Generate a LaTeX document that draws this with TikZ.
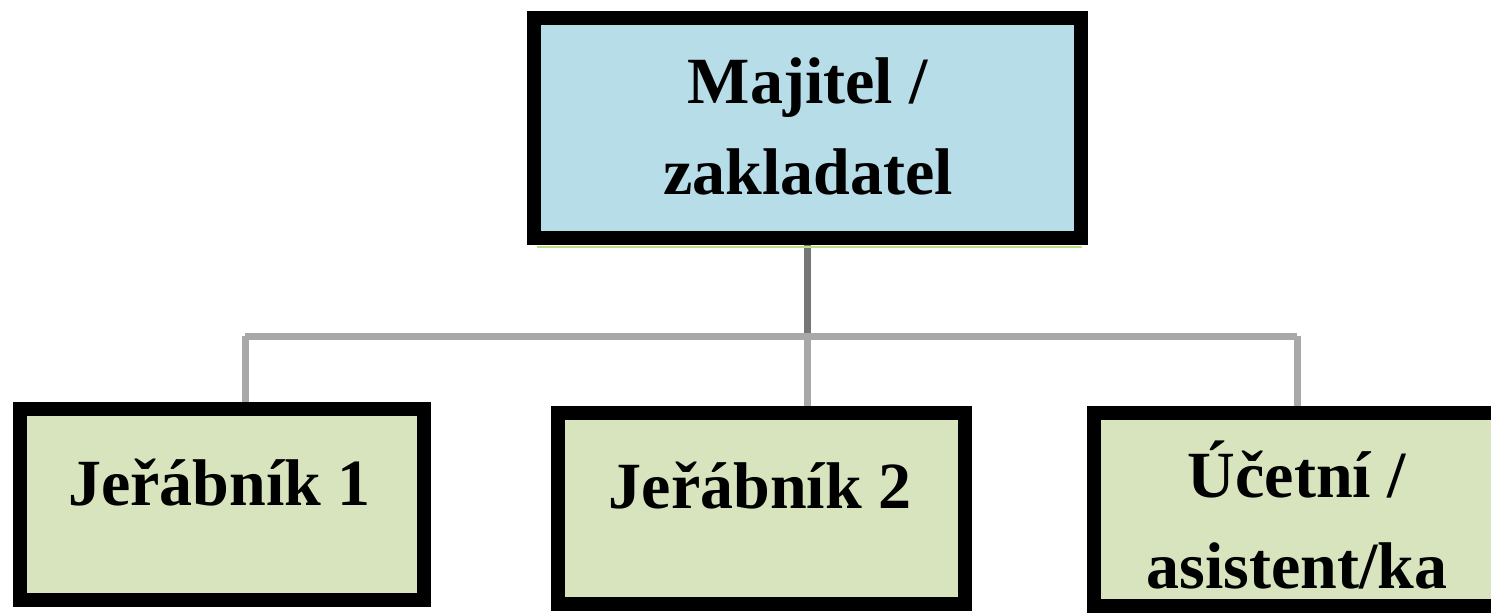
\documentclass[tikz,border=0pt]{standalone}
\usepackage{fontspec}
\setmainfont{Liberation Serif}
\usepackage{tikz}
\usetikzlibrary{positioning, calc, backgrounds}
\definecolor{topblue}{HTML}{B7DDE8}
\definecolor{boxgreen}{HTML}{D7E4BD}
\definecolor{linegray}{HTML}{A8A8A8}
\definecolor{shadegreen}{HTML}{B8E07E}
\tikzset{
         mytop/.style={draw, line width=7pt, fill=topblue, minimum width=273.5pt, minimum height=110pt, inner sep=0pt},
         mybox/.style={draw, line width=7pt, fill=boxgreen, minimum width=203.5pt, minimum height=95.5pt, inner sep=0pt},
         mytext/.style={font=\fontsize{33}{45.5}\selectfont\bfseries, align=center, anchor=base, inner sep=0pt},
         mylink/.style={draw=linegray, line width=3.5pt}
      }
\begin{document}
\begin{tikzpicture}[x=0.5pt, y=-0.5pt]
\useasboundingbox (0,0) rectangle (1491,614);
% boxes
\node[mytop] (owner) at (807,128.5) {};
\node[mybox, minimum width=202pt] (crane1) at (222,504.5) {};
\node[mybox] (crane2) at (761.5,508) {};
\node[mybox, minimum height=96.5pt] (account) at (1297.5,509.5) {};
% texts (base = last line)
\node[mytext] (ownerlbl) at (808,195) {Majitel /\\zakladatel};
\node[mytext] (crane1lbl) at (219.5,505) {Jeřábník 1};
\node[mytext] (crane2lbl) at (760,508) {Jeřábník 2};
\node[mytext] (accountlbl) at (1297,588) {Účetní /\\asistent/ka};
\draw[line width=1pt, draw=shadegreen] ($(owner.south west)+(10.5,1.5)$) -- ($(owner.south east)+(-5.5,1.5)$);
% connectors
\coordinate (busL) at (245,336);
\coordinate (busR) at (1297,336);
\begin{scope}[on background layer]
\draw[mylink, draw=linegray!70!black] (owner.south) -- (owner.south |- busL);
\draw[mylink] (busL) -- (busR);
\draw[mylink] (busL) -- (busL |- crane1.north);
\draw[mylink] (owner.south |- busL) -- (owner.south |- crane2.north);
\draw[mylink] (busR) -- (busR |- account.north);
\end{scope}
\end{tikzpicture}
\end{document}
